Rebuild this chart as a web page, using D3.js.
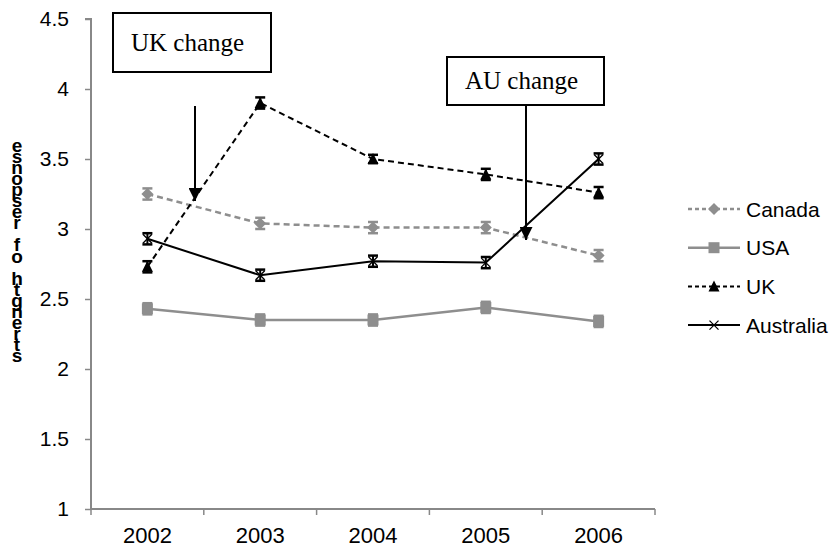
<!DOCTYPE html>
<html><head><meta charset="utf-8">
<script src="https://cdn.jsdelivr.net/npm/d3@7"></script>
<style>body{margin:0;background:#fff}svg{display:block}</style>
</head><body>
<svg id="c" width="837" height="553"></svg>
<script>
const years = ["2002","2003","2004","2005","2006"];
const yTicks = [1,1.5,2,2.5,3,3.5,4,4.5];
const canada = [3.25,3.04,3.01,3.01,2.81];
const usa = [2.43,2.35,2.35,2.44,2.34];
const uk = [2.73,3.90,3.50,3.39,3.26];
const australia = [2.93,2.67,2.77,2.76,3.50];
const canadaErr = [0.04,0.04,0.04,0.04,0.04];
const usaErr = [0.04,0.04,0.04,0.04,0.04];
const ukErr = [0.04,0.04,0.03,0.04,0.04];
const australiaErr = [0.04,0.04,0.04,0.04,0.04];
const seriesNames = ["Canada","USA","UK","Australia"];
const yLabel = "strength of response";
const notes = ["UK change","AU change"];

const series = [
  {name:seriesNames[0], v:canada, e:canadaErr, color:"#8e8e8e", dash:"6,4", marker:"diamond", w:2.5},
  {name:seriesNames[1], v:usa, e:usaErr, color:"#8e8e8e", dash:null, marker:"square", w:2.5},
  {name:seriesNames[2], v:uk, e:ukErr, color:"#000", dash:"6,4", marker:"triangle", w:2},
  {name:seriesNames[3], v:australia, e:australiaErr, color:"#000", dash:null, marker:"x", w:2}
];

const svg = d3.select("#c");
const x = d3.scaleBand().domain(years).range([91,655]);
const y = d3.scaleLinear().domain([1,4.5]).range([509,19]);
const axisColor = "#888";
const font = "'Liberation Sans', Arial, sans-serif";

// y axis
const ya = svg.append("g").attr("transform","translate(91,0)")
  .call(d3.axisLeft(y).tickValues(yTicks).tickSize(6).tickPadding(16).tickFormat(d3.format("")));
ya.select(".domain").attr("stroke",axisColor).attr("stroke-width",2).attr("d","M-6,19H0V509");
ya.selectAll(".tick line").attr("stroke",axisColor).attr("stroke-width",1.5);
ya.selectAll("text").attr("font-family",font).attr("font-size",21).attr("fill","#000");

// x axis
const xa = svg.append("g").attr("transform","translate(0,509)")
  .call(d3.axisBottom(x).tickSize(0).tickPadding(18));
xa.select(".domain").attr("stroke",axisColor).attr("stroke-width",2).attr("d","M91,0H655");
xa.selectAll("text").attr("font-family",font).attr("font-size",22).attr("fill","#000");
const bounds = years.map(d=>x(d)).concat([x(years[years.length-1])+x.bandwidth()]);
xa.selectAll(".bt").data(bounds).enter().append("line")
  .attr("x1",d=>d).attr("x2",d=>d).attr("y1",0).attr("y2",6)
  .attr("stroke",axisColor).attr("stroke-width",1.5);

// y label: stacked upright characters, reading bottom-to-top
const chars = yLabel.split("").reverse();
const yl = svg.append("text").attr("text-anchor","middle").attr("font-family",font)
  .attr("font-weight","bold").attr("font-size",19).attr("fill","#000");
yl.selectAll("tspan").data(chars).enter().append("tspan")
  .attr("x",17).attr("y",(d,i)=>152+i*11.05).text(d=>d);

const cx = d => x(d)+x.bandwidth()/2;

function marker(g, type, color, px, py){
  if(type==="diamond"){
    g.append("path").attr("d",`M${px},${py-6}L${px+6},${py}L${px},${py+6}L${px-6},${py}Z`).attr("fill",color);
  } else if(type==="square"){
    g.append("rect").attr("x",px-5.5).attr("y",py-5.5).attr("width",11).attr("height",11).attr("fill",color);
  } else if(type==="triangle"){
    g.append("path").attr("d",`M${px},${py-6}L${px+5.5},${py+5}L${px-5.5},${py+5}Z`).attr("fill",color);
  } else {
    g.append("path").attr("d",`M${px-4.5},${py-4.5}L${px+4.5},${py+4.5}M${px+4.5},${py-4.5}L${px-4.5},${py+4.5}`)
      .attr("stroke",color).attr("stroke-width",1.3).attr("fill","none");
  }
}

series.forEach(s=>{
  const g = svg.append("g");
  const line = d3.line().x((d,i)=>cx(years[i])).y(d=>y(d));
  g.append("path").datum(s.v).attr("d",line).attr("fill","none")
    .attr("stroke",s.color).attr("stroke-width",s.w).attr("stroke-dasharray",s.dash);
  s.v.forEach((v,i)=>{
    const px = cx(years[i]);
    const top = y(v+s.e[i]), bot = y(v-s.e[i]);
    g.append("line").attr("x1",px).attr("x2",px).attr("y1",top).attr("y2",bot).attr("stroke",s.color).attr("stroke-width",2);
    g.append("line").attr("x1",px-5).attr("x2",px+5).attr("y1",top).attr("y2",top).attr("stroke",s.color).attr("stroke-width",2.5);
    g.append("line").attr("x1",px-5).attr("x2",px+5).attr("y1",bot).attr("y2",bot).attr("stroke",s.color).attr("stroke-width",2.5);
    marker(g, s.marker, s.color, px, y(v));
  });
});

// legend
const lg = svg.append("g");
series.forEach((s,i)=>{
  const ly = 209 + i*38.7;
  lg.append("line").attr("x1",688).attr("x2",740).attr("y1",ly).attr("y2",ly)
    .attr("stroke",s.color).attr("stroke-width",s.w).attr("stroke-dasharray",s.dash?"4,3":null);
  marker(lg, s.marker, s.color, 714, ly);
  lg.append("text").attr("x",746).attr("y",ly+7.5).attr("font-family",font).attr("font-size",21)
    .attr("fill","#000").text(s.name);
});

// annotations
const defs = svg.append("defs");
defs.append("marker").attr("id","ah").attr("viewBox","0 0 10 10").attr("refX",10).attr("refY",5)
  .attr("markerWidth",14).attr("markerHeight",13).attr("markerUnits","userSpaceOnUse").attr("orient","auto")
  .append("path").attr("d","M0,0L10,5L0,10Z").attr("fill","#000");

function note(bx,by,bw,bh,text,ax,ay1,ay2){
  svg.append("rect").attr("x",bx).attr("y",by).attr("width",bw).attr("height",bh)
    .attr("fill","#fff").attr("stroke","#000").attr("stroke-width",2);
  svg.append("text").attr("x",bx+18).attr("y",by+bh/2+8).attr("font-family","'Liberation Serif','Times New Roman',serif")
    .attr("font-size",25).attr("fill","#000").text(text);
  svg.append("line").attr("x1",ax).attr("x2",ax).attr("y1",ay1).attr("y2",ay2)
    .attr("stroke","#000").attr("stroke-width",2).attr("marker-end","url(#ah)");
}
note(113,13,158,59,notes[0],195,106,201);
note(447,57,157,48,notes[1],526,105,240);
</script>
</body></html>
